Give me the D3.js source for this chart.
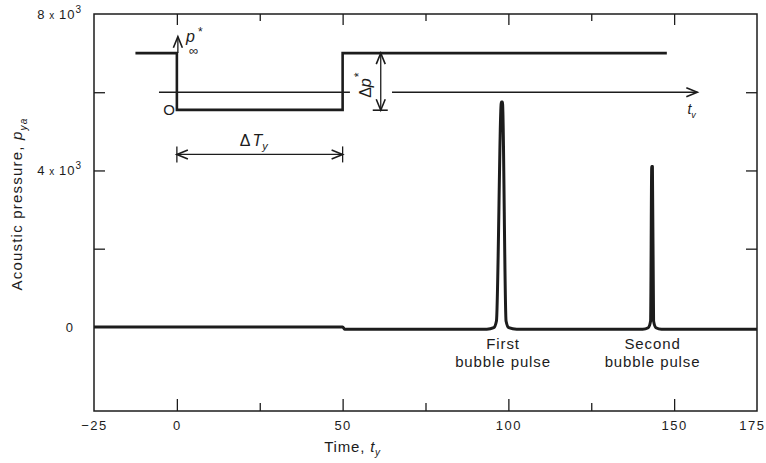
<!DOCTYPE html>
<html>
<head>
<meta charset="utf-8">
<script src="https://cdn.jsdelivr.net/npm/d3@7"></script>
<style>
  body { margin: 0; background: #fff; }
  text { font-family: "Liberation Sans", Arial, sans-serif; fill: #1c1c1c; }
  .tick text { font-family: "Liberation Sans", Arial, sans-serif; fill: #1c1c1c; }
</style>
</head>
<body>
<div id="chart"></div>
<script>
// chart values
var timeTicksMajor = [0, 50, 100, 150];
var timeTicksMinor = [25, 75, 125];
var timeLabels = [-25, 0, 50, 100, 150, 175];
var pressureTicks = [2000, 4000, 6000];
var pressureLabels = [0, 4000, 8000];

// recorded pressure trace (time, pressure)
var traceTime = [-25, 50, 50.6, 93.5, 95.6, 96.4, 97.9, 98.2, 99.3, 100.1, 102.5,
    140.5, 142.2, 142.9, 143.25, 143.45, 143.8, 144.5, 146.2, 175];
var tracePressure = [0, 0, -60, -60, -20, 150, 5750, 5750, 150, -20, -60,
    -60, -20, 150, 4100, 4100, 150, -20, -60, -60];

// schematic of the step in ambient pressure
var stepTime = [-12.5, 0, 0, 50, 50, 147.8];
var stepPressure = [7000, 7000, 5550, 5550, 7000, 7000];
var stepZero = 6000;          // level of the t_v axis
var stepArrowTop = 7420;      // tip of the p_inf arrow
var tvAxisSegments = [[-5.4, 52.2], [64.9, 157]];
var deltaPTime = 61.5;
var deltaTLevel = 4410;

var pulseLabels = [
    { t: 98.4, lines: ["First", "bubble pulse"] },
    { t: 143.5, lines: ["Second", "bubble pulse"] }
];

// set the dimensions and margins of the graph
var margin = { top: 14, right: 9, bottom: 52, left: 94 },
    width = 766 - margin.left - margin.right,
    height = 463 - margin.top - margin.bottom;

var svg = d3.select("#chart")
    .append("svg")
    .attr("width", width + margin.left + margin.right)
    .attr("height", height + margin.top + margin.bottom)
    .append("g")
    .attr("transform", "translate(" + margin.left + "," + margin.top + ")");

var x = d3.scaleLinear().domain([-25, 175]).range([0, width]);
var y = d3.scaleLinear().domain([-2150, 8000]).range([height, 0]);

var ink = "#1c1c1c";

// frame
svg.append("rect")
    .attr("width", width)
    .attr("height", height)
    .attr("fill", "none")
    .attr("stroke", ink)
    .attr("stroke-width", 1.5);

// inward ticks on all four sides
function tickAxis(axis, tr) {
    var g = svg.append("g").attr("transform", tr || null).call(axis);
    g.select(".domain").remove();
    g.selectAll("line").attr("stroke", ink).attr("stroke-width", 1.3);
    return g;
}
tickAxis(d3.axisBottom(x).tickValues(timeTicksMajor).tickSize(-12).tickFormat(""), "translate(0," + height + ")");
tickAxis(d3.axisBottom(x).tickValues(timeTicksMinor).tickSize(-8).tickFormat(""), "translate(0," + height + ")");
tickAxis(d3.axisTop(x).tickValues(timeTicksMajor).tickSize(-11).tickFormat(""));
tickAxis(d3.axisTop(x).tickValues(timeTicksMinor).tickSize(-7).tickFormat(""));
tickAxis(d3.axisLeft(y).tickValues(pressureTicks).tickSize(-11).tickFormat(""));
tickAxis(d3.axisRight(y).tickValues(pressureTicks).tickSize(-11).tickFormat(""), "translate(" + width + ",0)");

// x labels
var xl = svg.append("g")
    .attr("transform", "translate(0," + height + ")")
    .call(d3.axisBottom(x).tickValues(timeLabels).tickSize(0).tickPadding(10).tickFormat(function (d) {
        return d < 0 ? "\u2212" + (-d) : d;
    }));
xl.select(".domain").remove();
xl.selectAll("text").style("font-size", "13px").style("letter-spacing", "1.5px");
// last label sits against the right edge
xl.selectAll("text").filter(function (d) { return d === 175; })
    .attr("text-anchor", "end")
    .attr("dx", 8);

// y labels, with the power of ten as a superscript
var yl = svg.append("g");
pressureLabels.forEach(function (d) {
    var t = yl.append("text")
        .attr("x", d === 0 ? -20 : -12)
        .attr("y", y(d) + 5)
        .attr("text-anchor", "end")
        .style("font-size", "13px")
        .style("letter-spacing", "1px");
    if (d === 0) {
        t.text("0");
    } else {
        t.append("tspan").text(d / 1000);
        t.append("tspan").text(" x ").style("font-size", "10px");
        t.append("tspan").text("10");
        t.append("tspan").text("3").attr("dy", -6).style("font-size", "10px");
    }
});

// x-label
var xlab = svg.append("text")
    .attr("x", x(53))
    .attr("y", height + 41)
    .attr("text-anchor", "middle")
    .style("font-size", "15px")
    .style("letter-spacing", "0.8px");
xlab.append("tspan").text("Time, ");
xlab.append("tspan").text("t").style("font-style", "italic");
xlab.append("tspan").text("y").attr("dy", 4).style("font-size", "10px").style("font-style", "italic");

// y-label
var ylab = svg.append("text")
    .attr("transform", "rotate(-90)")
    .attr("x", -(204 - margin.top))
    .attr("y", -72)
    .attr("text-anchor", "middle")
    .style("font-size", "15px")
    .style("letter-spacing", "1.2px");
ylab.append("tspan").text("Acoustic pressure, ");
ylab.append("tspan").text("p").style("font-style", "italic");
ylab.append("tspan").text("ya").attr("dy", 5).style("font-size", "10px").style("font-style", "italic");

// the pressure trace
var traceData = traceTime.map(function (t, i) { return [t, tracePressure[i]]; });
svg.append("path")
    .datum(traceData)
    .attr("fill", "none")
    .attr("stroke", ink)
    .attr("stroke-width", 3)
    .attr("stroke-linejoin", "round")
    .attr("d", d3.line()
        .curve(d3.curveMonotoneX)
        .x(function (d) { return x(d[0]); })
        .y(function (d) { return y(d[1]); }));

// pulse labels
pulseLabels.forEach(function (p) {
    var t = svg.append("text")
        .attr("text-anchor", "middle")
        .style("font-size", "15px")
        .style("letter-spacing", "0.9px");
    p.lines.forEach(function (line, i) {
        t.append("tspan")
            .attr("x", x(p.t))
            .attr("y", y(0) + 22 + i * 18)
            .text(line);
    });
});

// ---- inset schematic ----
var stepData = stepTime.map(function (t, i) { return [t, stepPressure[i]]; });
svg.append("path")
    .datum(stepData)
    .attr("fill", "none")
    .attr("stroke", ink)
    .attr("stroke-width", 2.6)
    .attr("d", d3.line()
        .x(function (d) { return x(d[0]); })
        .y(function (d) { return y(d[1]); }));

function thin(x1, y1, x2, y2, w) {
    svg.append("line")
        .attr("x1", x1).attr("y1", y1).attr("x2", x2).attr("y2", y2)
        .attr("stroke", ink)
        .attr("stroke-width", w || 1.3);
}
// chevron arrowhead at (px,py) pointing in direction (dx,dy)
function chevron(px, py, dx, dy) {
    var len = 11, half = 4.5;
    var nx = -dy, ny = dx;
    svg.append("path")
        .attr("d", "M" + (px - dx * len + nx * half) + "," + (py - dy * len + ny * half) +
            "L" + px + "," + py +
            "L" + (px - dx * len - nx * half) + "," + (py - dy * len - ny * half))
        .attr("fill", "none")
        .attr("stroke", ink)
        .attr("stroke-width", 1.6);
}

// t_v axis
tvAxisSegments.forEach(function (s) {
    thin(x(s[0]), y(stepZero), x(s[1]), y(stepZero));
});
chevron(x(tvAxisSegments[1][1]), y(stepZero), 1, 0);

// p_inf arrow
thin(x(0) + 1, y(7000), x(0) + 1, y(stepArrowTop));
chevron(x(0) + 1, y(stepArrowTop), 0, -1);

// delta p arrow
thin(x(deltaPTime), y(7000), x(deltaPTime), y(5540));
chevron(x(deltaPTime), y(7000), 0, -1);
chevron(x(deltaPTime), y(5540), 0, 1);
thin(x(deltaPTime) - 8, y(5540), x(deltaPTime) + 7, y(5540), 1.6);

// delta T arrow
thin(x(0), y(deltaTLevel), x(50), y(deltaTLevel));
chevron(x(0), y(deltaTLevel), -1, 0);
chevron(x(50), y(deltaTLevel), 1, 0);
thin(x(0), y(deltaTLevel) - 8, x(0), y(deltaTLevel) + 8);
thin(x(50), y(deltaTLevel) - 8, x(50), y(deltaTLevel) + 8);

// inset labels
svg.append("text")
    .attr("x", x(0) - 2)
    .attr("y", y(5550) + 5)
    .attr("text-anchor", "end")
    .style("font-size", "15px")
    .text("O");

// p_inf*: letter, subscript and star as separate texts
var pinfX = x(0) + 9, pinfY = y(7000) - 19;
svg.append("text")
    .attr("x", pinfX)
    .attr("y", pinfY + 8)
    .style("font-size", "16px")
    .style("font-style", "italic")
    .text("p");
svg.append("text")
    .attr("x", pinfX + 3)
    .attr("y", pinfY + 21)
    .style("font-size", "13px")
    .text("\u221e");
svg.append("text")
    .attr("x", pinfX + 12)
    .attr("y", pinfY + 2)
    .style("font-size", "12px")
    .text("*");

var dp = svg.append("text")
    .attr("transform", "translate(" + (x(deltaPTime) - 10) + "," + (y(5550) - 12) + ") rotate(-90)")
    .style("font-size", "16px");
dp.append("tspan").text("\u0394");
dp.append("tspan").text("p").style("font-style", "italic");
dp.append("tspan").text("*").attr("dx", 1).attr("dy", -8).style("font-size", "12px");

var dt = svg.append("text")
    .attr("x", x(19))
    .attr("y", y(4630))
    .style("font-size", "16px");
dt.append("tspan").text("\u0394");
dt.append("tspan").text("T").attr("dx", 2).style("font-style", "italic");
dt.append("tspan").text("y").attr("dy", 4).style("font-size", "11px").style("font-style", "italic");

var tv = svg.append("text")
    .attr("x", x(154))
    .attr("y", y(5440))
    .style("font-size", "14px")
    .style("font-style", "italic");
tv.append("tspan").text("t");
tv.append("tspan").text("v").attr("dy", 4).style("font-size", "9px");
</script>
</body>
</html>
